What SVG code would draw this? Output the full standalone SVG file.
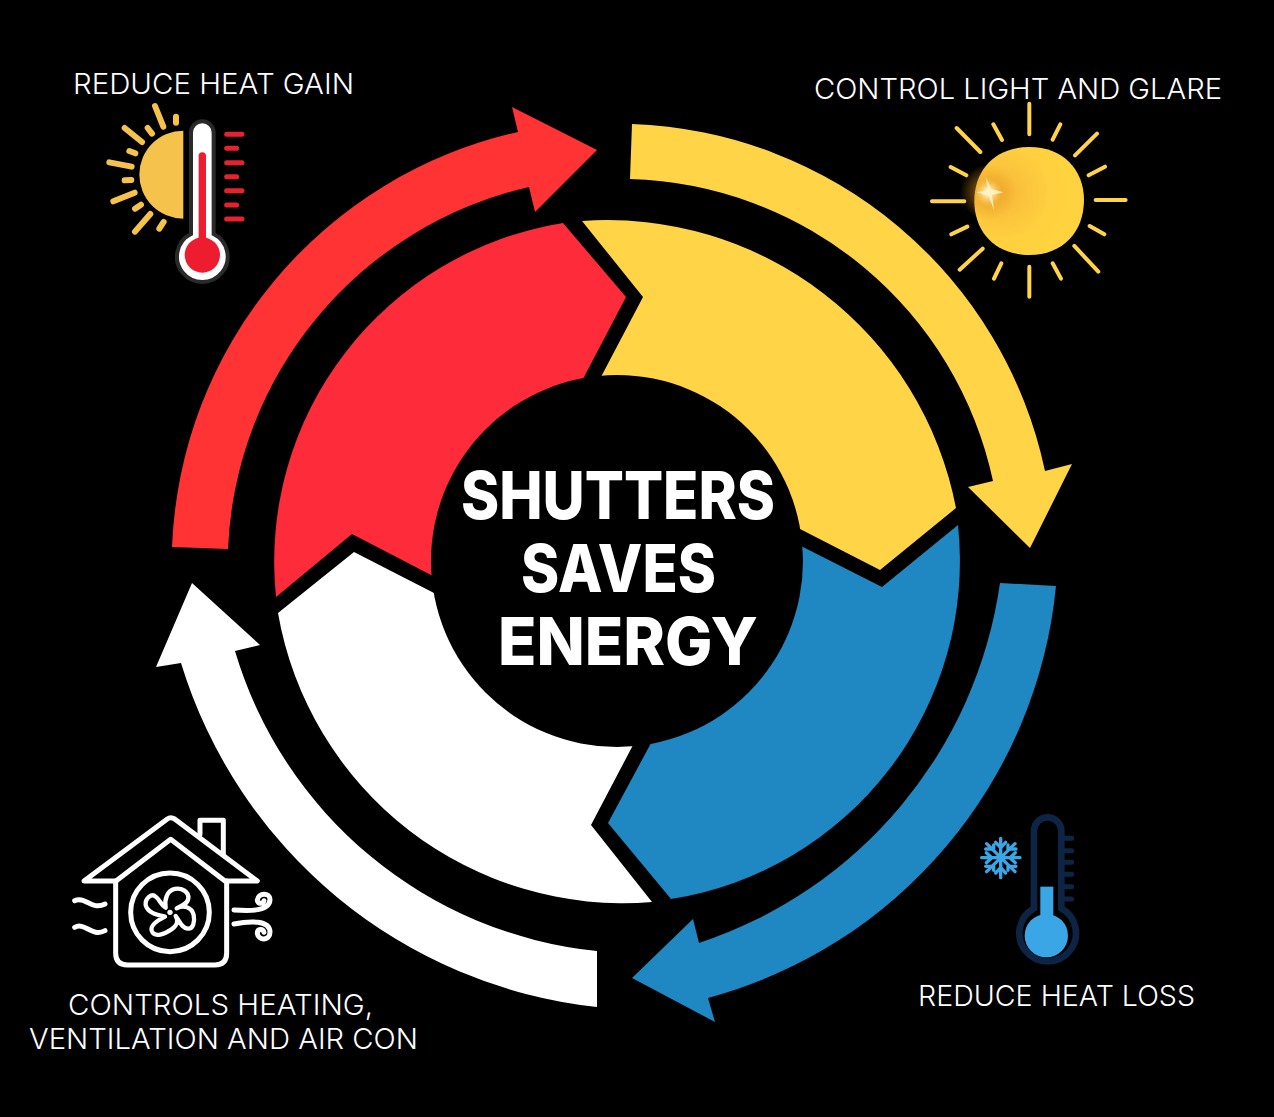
<svg xmlns="http://www.w3.org/2000/svg" width="1274" height="1117" viewBox="0 0 1274 1117">
<style>
.lbl{font-family:"Inter","Open Sans","Liberation Sans",sans-serif;font-weight:300;font-size:29px;fill:#fff}
.ttl{font-family:"Inter","Open Sans","Liberation Sans",sans-serif;font-weight:800;font-size:66px;fill:#fff}
.r{fill:#ff3333}.rs{fill:#fe2b3a}.y{fill:#ffd447}.b{fill:#1f87c1}.w{fill:#fff}
.ln{fill:none;stroke-linecap:round;stroke-linejoin:round}
</style>
<defs>
<radialGradient id="flare"><stop offset="0" stop-color="#fff"/><stop offset=".15" stop-color="#ffe9a8" stop-opacity=".85"/><stop offset=".5" stop-color="#e89a20" stop-opacity=".4"/><stop offset="1" stop-color="#e89a20" stop-opacity="0"/></radialGradient>
<radialGradient id="sunfill" cx=".25" cy=".42" r=".8"><stop offset="0" stop-color="#f7b73a"/><stop offset=".55" stop-color="#ffd03f"/><stop offset="1" stop-color="#ffd43f"/></radialGradient>
</defs>
<rect width="1274" height="1117" fill="#000"/>

<g id="connectors">
<path id="arrow-yellow" class="y" d="M632,124 A438,438 0 0 1 1045,471 L1072,464 L1030,548 L968,487 L993,481 A382,382 0 0 0 630,179 Z"/>
<path id="arrow-blue" class="b" d="M1056,586 A474,474 0 0 1 708,998 L715,1022 L632,978 L693,919 L699,943 A445,445 0 0 0 1000,583 Z"/>
<path id="arrow-white" class="w" d="M597,1007 A490,490 0 0 1 181,663 L156,667 L192,583 L260,645 L235,651 A422,422 0 0 0 597,951 Z"/>
<path id="arrow-red" class="r" d="M172,547 A443,443 0 0 1 518,132 L512,107 L597,150 L535,212 L529,187 A388,388 0 0 0 228,549 Z"/>
</g>

<g id="segment-red"><path class="rs" d="M563,223 A343,343 0 0 0 276,597 L352,534 L431,575 L480,600 L617,561 L565,413 L584,377 L626,297 Z"/></g>
<g id="segment-yellow"><path class="y" d="M582,221 A355,355 0 0 1 956,508 L880,570 L802,530 L770,514 L617,561 L585,408 L602,375 L643,297 Z"/></g>
<g id="segment-blue"><path class="b" d="M958,525 A342,342 0 0 1 671,899 L608,823 L650,745 L672,704 L617,561 L770,530 L803,547 L882,587 Z"/></g>
<g id="segment-white"><path class="w" d="M278,613 A350,350 0 0 0 652,902 L591,825 L632,747 L650,713 L617,561 L480,617 L434,593 L354,552 Z"/></g>

<g id="center">
<circle cx="617" cy="561" r="186" fill="#000"/>
<text class="ttl" x="461" y="519" textLength="314" lengthAdjust="spacingAndGlyphs">SHUTTERS</text>
<text class="ttl" x="521" y="592" textLength="195" lengthAdjust="spacingAndGlyphs">SAVES</text>
<text class="ttl" x="498" y="665" textLength="260" lengthAdjust="spacingAndGlyphs">ENERGY</text>
</g>

<g id="heat-gain">
<text class="lbl" x="73" y="94" textLength="281" lengthAdjust="spacingAndGlyphs">REDUCE HEAT GAIN</text>
<g transform="translate(90 100) scale(.3333)">
<path d="M280,92 A132,132 0 0 0 280,356 Z" fill="#f5c24b"/>
<path class="ln" stroke="#f5c24b" stroke-width="18" d="M195,18 L220,80M258,50 L258,68M104,84 L156,126M173,84 L186,101M118,153 L136,160M58,187 L125,200M104,241 L124,240M70,304 L134,278M135,326 L153,314M135,395 L181,342M208,386 L221,366"/>
<path d="M303,98 A34,34 0 0 1 371,98 L371,402 A76,76 0 1 1 303,402 Z" fill="#fff" stroke="#2a2a2a" stroke-width="12"/>
<circle cx="337" cy="465" r="53" fill="#ed1c2e"/>
<path class="ln" stroke="#ed1c2e" stroke-width="22" d="M337,168 L337,430"/>
<path class="ln" stroke="#e8212f" stroke-width="15" d="M410,103 H456M410,145 H440M410,188 H456M410,230 H440M410,272 H456M410,315 H440M410,357 H456"/>
</g>
</g>

<g id="light-glare">
<text class="lbl" x="814" y="99" textLength="408" lengthAdjust="spacingAndGlyphs">CONTROL LIGHT AND GLARE</text>
<g transform="translate(920 95) scale(.3333)">
<path d="M328,156 C430,156 492,225 492,315 C492,410 430,480 328,480 C225,480 163,410 163,318 C163,225 225,156 328,156 Z" fill="url(#sunfill)"/>
<path class="ln" stroke="#ffd447" stroke-width="12" d="M328,26 V118M220,88 L246,135M421,88 L398,134M110,99 L181,171M531,116 L465,181M92,216 L139,241M555,215 L506,241M36,319 H133M527,315 H617M94,418 L142,395M553,418 L509,393M119,524 L188,461M535,530 L463,453M222,551 L244,505M423,551 L398,505M328,515 V605"/>
<circle cx="205" cy="292" r="85" fill="url(#flare)"/>
<path d="M197,245 L214,282 L250,292 L216,300 L222,345 L206,303 L170,292 L204,284 Z" fill="#fff3c4" opacity=".9"/>
</g>
</g>

<g id="heat-loss">
<text class="lbl" x="918" y="1006" textLength="277" lengthAdjust="spacingAndGlyphs">REDUCE HEAT LOSS</text>
<g transform="translate(965 805) scale(.3333)">
<path class="ln" stroke="#0e2445" stroke-width="15" d="M295,100 H320M295,137 H320M295,172 H320M295,208 H320M295,245 H320M295,282 H320"/>
<path d="M207,310 L207,78 A41,41 0 0 1 289,78 L289,310 A85,85 0 1 1 207,310 Z" fill="#000" stroke="#0e2445" stroke-width="20"/>
<rect x="226" y="245" width="39" height="100" fill="#3aa6e6"/>
<circle cx="244" cy="392" r="65" fill="#3aa6e6"/>
<g class="ln" stroke="#3aa6e6" stroke-width="10">
<path d="M107,100 V218M50,158 H165M65,116 L150,200M150,116 L65,200"/>
<path d="M92,112 L107,128 L122,112M92,204 L107,188 L122,204M64,143 L80,158 L64,173M151,143 L135,158 L151,173M62,132 L86,132 L86,120M153,132 L129,132 L129,120M62,184 L86,184 L86,196M153,184 L129,184 L129,196"/>
</g>
</g>
</g>

<g id="hvac">
<text class="lbl" x="68" y="1015" textLength="305" lengthAdjust="spacingAndGlyphs">CONTROLS HEATING,</text>
<text class="lbl" x="29" y="1049" textLength="389" lengthAdjust="spacingAndGlyphs">VENTILATION AND AIR CON</text>
<g transform="translate(60 805) scale(.3333)">
<g class="ln" stroke="#fff" stroke-width="15">
<path d="M72,228 L322,42 Q332,35 344,42 L592,228 L495,228 L332,103 L168,228 Z"/>
<path d="M420,88 L420,46 L490,46 L490,145"/>
<path d="M167,228 L167,445 Q167,480 202,480 L465,480 Q500,480 500,445 L500,228"/>
<circle cx="330" cy="322" r="118"/>
<path d="M44,287 C75,272 95,318 135,297M44,367 C75,350 95,398 135,377"/>
<path d="M522,315 C570,318 630,320 630,283 C630,262 595,262 592,285 C592,298 610,298 612,287"/>
<path d="M522,357 C570,347 630,345 630,382 C630,408 595,408 592,385 C592,370 610,370 612,382"/>
<path transform="translate(195 195)" stroke-width="13" d="M122,113 C118,90 125,62 150,57 C170,53 192,65 190,85 C188,102 170,108 155,115 C175,105 200,110 206,135 C210,155 205,178 188,176 C170,174 165,155 152,138 C160,150 158,165 140,178 C120,192 88,205 80,182 C75,165 100,150 120,140 C100,135 68,130 62,105 C60,85 80,68 92,80 C105,90 108,105 122,113 Z"/>
</g>
<circle cx="330" cy="322" r="8" fill="#fff"/>
</g>
</g>
</svg>
